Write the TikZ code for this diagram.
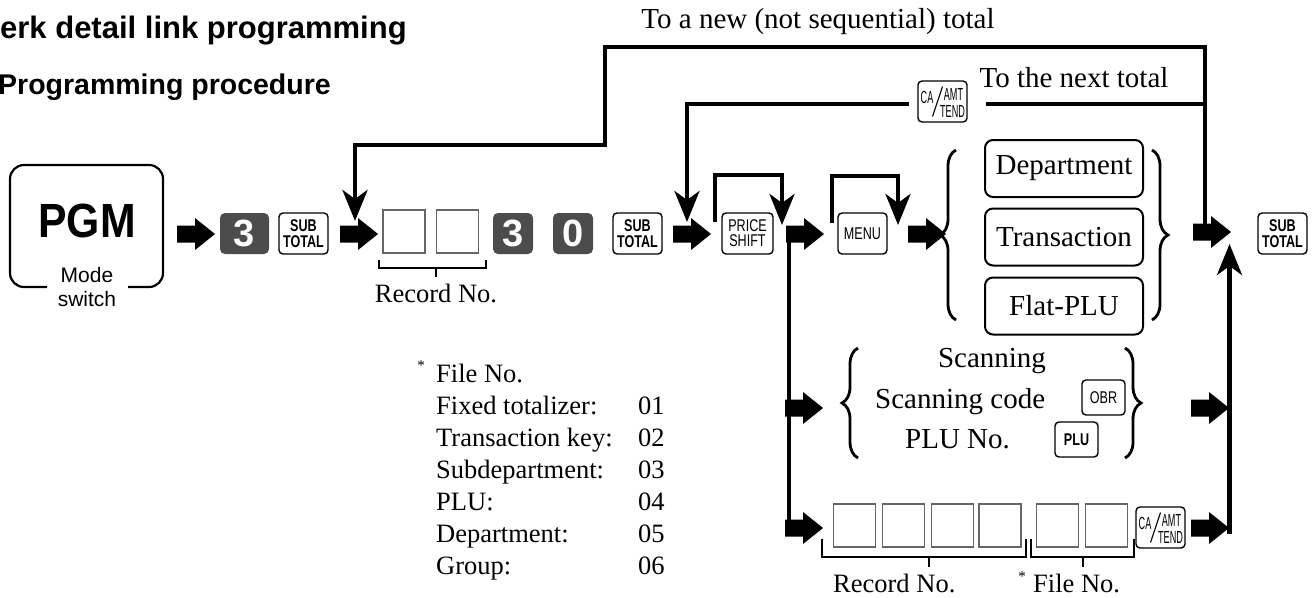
\documentclass[tikz,border=0pt]{standalone}
\usepackage{fontspec}
\setmainfont{Liberation Serif}
\newfontfamily\arialf{Liberation Sans}
\newfontfamily\pgmfont[FakeStretch=0.89]{Liberation Sans}
\newfontfamily\keyfnt[FakeStretch=0.74]{Liberation Sans}
\newfontfamily\keyplain[FakeStretch=0.74]{Liberation Sans}
\newfontfamily\keynarrow[FakeStretch=0.52]{Liberation Sans}
\usetikzlibrary{arrows.meta,decorations.pathreplacing,calc}
\definecolor{keygray}{gray}{0.3}
\definecolor{boxgray}{gray}{0.4}
\newcommand\mySubKey{\keyfnt\bfseries\fontsize{17}{15.5}\selectfont}
\newcommand\myPlainKey{\keyplain\fontsize{17}{15}\selectfont}
\newcommand\myCaFont{\keynarrow\fontsize{17.5}{17.5}\selectfont}
\newcommand\myBig{\fontsize{29}{29}\selectfont}
\newcommand\myMid{\fontsize{26.5}{26.5}\selectfont}
\begin{document}
\begin{tikzpicture}[x=1pt,y=-1pt,
  key/.style={draw, rounded corners=4pt, line width=1.4pt, minimum width=49pt, minimum height=41pt, inner sep=0pt, align=center},
  digit/.style={fill=keygray, rounded corners=5pt, minimum height=41pt, inner sep=0pt, text=white, font=\arialf\bfseries\fontsize{38}{38}\selectfont},
  rec/.style={draw=boxgray, line width=1.4pt, minimum width=42pt, minimum height=43pt, inner sep=0pt},
  brec/.style={draw=boxgray, line width=1.4pt, minimum width=42pt, minimum height=43pt, inner sep=0pt},
  optbox/.style={draw, rounded corners=8pt, line width=2pt, minimum width=158pt, minimum height=57pt, inner sep=0pt, font=\myBig},
  conn/.style={line width=4.5pt},
  connarr/.style={line width=4.5pt, -{Stealth[length=31pt,width=25pt,inset=9pt]}},
  brk/.style={line width=2pt},
  cbrace/.style={decorate, decoration={brace, amplitude=16pt}, line width=2.8pt},
  lbl/.style={font=\myMid, inner sep=0pt},
  big/.style={font=\myBig, inner sep=0pt},
  cal/.style={font=\myCaFont, inner sep=0pt},
  blk/.pic={\fill (0,-8.5)--(18,-8.5)--(18,-16)--(38,0)--(18,16)--(18,8.5)--(0,8.5)--cycle;},
]
\useasboundingbox (0,0) rectangle (1313,597);

% titles
\node[anchor=base west, inner sep=0pt, font=\arialf\bfseries\fontsize{31}{31}\selectfont] (title) at (0,38) {erk detail link programming};
\node[anchor=base west, inner sep=0pt, font=\arialf\bfseries\fontsize{28.5}{28.5}\selectfont] (subtitle) at (-2,94) {Programming procedure};

% mode switch
\draw[line width=2.2pt, rounded corners=14pt] (47,287) -- (10,287) -- (10,165) -- (163,165) -- (163,287) -- (128,287);
\node[font=\pgmfont\bfseries\fontsize{48}{48}\selectfont, inner sep=0pt] (pgm) at (87,221) {PGM};
\node[font=\arialf\fontsize{21}{24}\selectfont, align=center, inner sep=0pt] (mode) at (87,287) {Mode\\switch};

% first row
\pic at (177,234) {blk};
\node[digit, minimum width=49pt] (k3) at (244.5,233.5) {3};
\node[key, font=\mySubKey] (st1) at (303.5,233.5) {SUB\\TOTAL};
\pic at (340,234) {blk};
\node[rec] (r1) at (404,231.5) {};
\node[rec] (r2) at (457.5,231.5) {};
\coordinate (rb1) at (379,260);
\coordinate (rb2) at (486,268);
\draw[brk] (rb1) |- (rb2) -- (486,260);
\draw[brk] (436,268) -- (436,277);
\node[lbl] (rn1) at (436,293) {Record No.};
\node[digit, minimum width=40pt] (d3) at (513,233.5) {3};
\node[digit, minimum width=40pt] (d0) at (573,233.5) {0};
\node[key, font=\mySubKey] (st2) at (637.5,233.5) {SUB\\TOTAL};
\pic at (673,234) {blk};
\node[key, minimum width=51pt, font=\myPlainKey] (ps) at (747.5,233.5) {PRICE\\SHIFT};
\pic at (786,234) {blk};
\node[key, font=\myPlainKey] (menu) at (862.5,233.5) {MENU};
\pic at (908,234) {blk};

% option boxes
\node[optbox] (dept) at (1064,168.5) {Department};
\node[optbox] (trans) at (1064,237) {Transaction};
\node[optbox] (flat) at (1064,306) {Flat-PLU};
\draw[cbrace] (956,320) -- (956,150);
\draw[cbrace] (1152,150) -- (1152,320);

\pic at (1193,232) {blk};
\node[key, font=\mySubKey] (st3) at (1282.5,233.5) {SUB\\TOTAL};

% loops
\coordinate (pa) at (715,222);
\coordinate (pat) at (715,175);
\coordinate (pb) at (782,225);
\draw[connarr] (pa) -- (pat) -| (pb);
\coordinate (ma) at (832,223);
\coordinate (mat) at (832,176);
\coordinate (mb) at (898,225);
\draw[connarr] (ma) -- (mat) -| (mb);

% return lines
\node[inner sep=0pt, font=\fontsize{29}{29}\selectfont] (lblA) at (818,22) {To a new (not sequential) total};
\node[inner sep=0pt, font=\fontsize{29}{29}\selectfont] (lblB) at (1074,78) {To the next total};
\coordinate (As) at (1205,226);
\coordinate (Ac1) at (1205,47);
\coordinate (Ac2) at (605,47);
\coordinate (Ac3) at (605,145);
\coordinate (Ac4) at (355,145);
\coordinate (Ae) at (355,221);
\draw[connarr] (As) -- (Ac1) -- (Ac2) -- (Ac3) -- (Ac4) -- (Ae);
\node[key] (ca1) at (942.5,101.5) {};
\node[cal] (ca1a) at ($(ca1.center)+(-15.5,-4)$) {CA};
\node[cal] (ca1b) at ($(ca1.center)+(11,-7.5)$) {AMT};
\node[cal] (ca1c) at ($(ca1.center)+(10,10)$) {TEND};
\draw[line width=1.1pt] ($(ca1.center)+(0,-15)$) -- ($(ca1.center)+(-10,15)$);
\coordinate (Bj) at (1205,104);
\coordinate (Be) at (687,222);
\draw[conn, shorten >=18pt] (Bj) -- (ca1.east |- Bj);
\draw[connarr, shorten <=8pt] (ca1.west |- Bj) -| (Be);

% left vertical and branches
\coordinate (vl1) at (789,232);
\coordinate (vl2) at (789,536);
\draw[conn] (vl1) -- (vl2);
\pic at (785,408) {blk};
\pic at (785,528) {blk};

% right vertical
\coordinate (vr1) at (1229.5,534);
\coordinate (vr2) at (1229.5,244);
\draw[connarr] (vr1) -- (vr2);
\pic at (1191,408) {blk};
\pic at (1191,528) {blk};

% scanning group
\draw[cbrace] (858,458) -- (858,348);
\draw[cbrace] (1125,348) -- (1125,458);
\node[big, anchor=base] (scan) at (992,367) {Scanning};
\node[big, anchor=base west] (scode) at (875,408) {Scanning code};
\node[big, anchor=base west] (pluno) at (905,448) {PLU No.};
\node[key, minimum width=43pt, minimum height=35pt, font=\myPlainKey] (obr) at (1103.5,397.5) {OBR};
\node[key, minimum width=43pt, minimum height=35pt, font=\mySubKey] (plu) at (1076.5,439.5) {PLU};

% bottom row
\node[brec] (b1) at (854.5,525.5) {};
\node[brec] (b2) at (903.5,525.5) {};
\node[brec] (b3) at (952.5,525.5) {};
\node[brec] (b4) at (1000,525.5) {};
\node[brec] (b5) at (1057.5,525.5) {};
\node[brec] (b6) at (1106.5,525.5) {};
\node[key] (ca2) at (1160.5,527.5) {};
\node[cal] (ca2a) at ($(ca2.center)+(-15.5,-4)$) {CA};
\node[cal] (ca2b) at ($(ca2.center)+(11,-7.5)$) {AMT};
\node[cal] (ca2c) at ($(ca2.center)+(10,10)$) {TEND};
\draw[line width=1.1pt] ($(ca2.center)+(0,-15)$) -- ($(ca2.center)+(-10,15)$);
\draw[brk] (822,539) |- (1026,557) -- (1026,539);
\draw[brk] (929,557) -- (929,567);
\draw[brk] (1031,539) |- (1134,557) -- (1134,539);
\draw[brk] (1083,557) -- (1083,567);
\node[lbl, anchor=base west] (rn2) at (833,592) {Record No.};
\node[font=\fontsize{15}{15}\selectfont, inner sep=0pt] (star2) at (1022,577) {*};
\node[lbl, anchor=base west] (fn2) at (1033,592) {File No.};

% legend
\node[font=\fontsize{15}{15}\selectfont, inner sep=0pt] (star1) at (421,366) {*};
\node[lbl, anchor=base west] (lg0) at (436,382) {File No.};
\node[lbl, anchor=base west] (lg1) at (436,414) {Fixed totalizer:};
\node[lbl, anchor=base west] (lg2) at (436,446) {Transaction key:};
\node[lbl, anchor=base west] (lg3) at (436,478) {Subdepartment:};
\node[lbl, anchor=base west] (lg4) at (436,510) {PLU:};
\node[lbl, anchor=base west] (lg5) at (436,542) {Department:};
\node[lbl, anchor=base west] (lg6) at (436,574) {Group:};
\node[lbl, anchor=base west] (n1) at (638,414) {01};
\node[lbl, anchor=base west] (n2) at (638,446) {02};
\node[lbl, anchor=base west] (n3) at (638,478) {03};
\node[lbl, anchor=base west] (n4) at (638,510) {04};
\node[lbl, anchor=base west] (n5) at (638,542) {05};
\node[lbl, anchor=base west] (n6) at (638,574) {06};
\end{tikzpicture}
\end{document}
